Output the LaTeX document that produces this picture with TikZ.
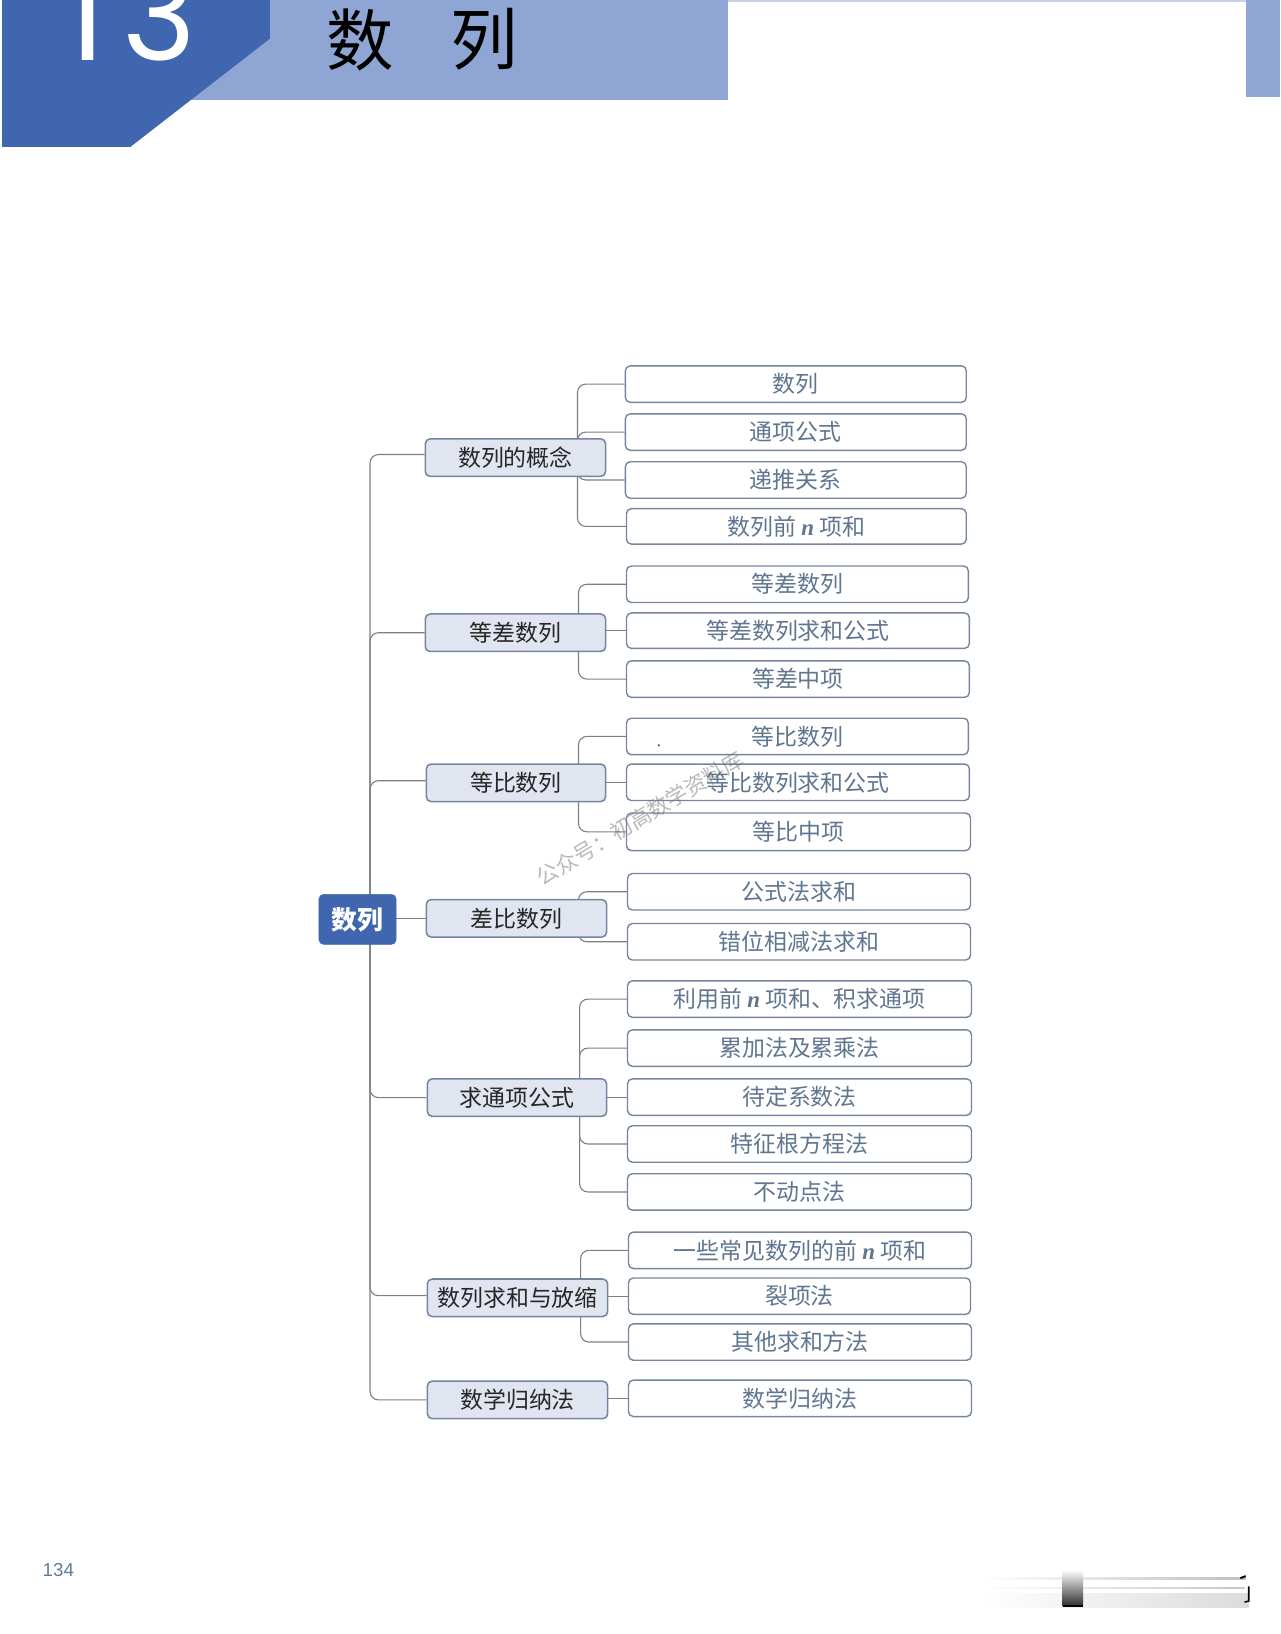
\documentclass[tikz,border=0pt]{standalone}
\usepackage{fontspec}
\setmainfont{Noto Sans CJK SC}
\newfontfamily\numfont{Poppins}
\newfontfamily\pagefont{Liberation Sans}
\newfontfamily\nfont{Liberation Serif}
\usetikzlibrary{backgrounds,calc}
\definecolor{banddark}{HTML}{3F66AE}
\definecolor{bandlight}{HTML}{8FA5D4}
\definecolor{edgecol}{HTML}{75859E}
\definecolor{conncol}{HTML}{7C7F85}
\definecolor{parentfill}{HTML}{E0E5F0}
\definecolor{childtext}{HTML}{5F7690}
\definecolor{pagecol}{HTML}{5D7C9E}
\tikzset{
  childbox/.style={draw=edgecol,line width=1pt,fill=white,rounded corners=3.5pt,inner sep=0pt,text=childtext,font=\fontsize{16.5}{18}\selectfont},
  parentbox/.style={draw=edgecol,line width=1.1pt,fill=parentfill,rounded corners=3.5pt,inner sep=0pt,text=black!85,font=\fontsize{16.5}{18}\selectfont},
  rootbox/.style={draw=banddark,line width=.5pt,fill=banddark,rounded corners=3.5pt,inner sep=0pt,text=white,font=\fontsize{18.5}{20}\selectfont\bfseries},
  conn/.style={draw=conncol,line width=.8pt,rounded corners=6pt},
}
\newcommand{\bx}[7]{\node[#1,minimum width={(#4-#3)*.75pt},minimum height={(#6-#5)*.75pt}] (#2) at ({(#3+#4)/2},{(#5+#6)/2}) {#7};}
\newcommand{\cx}[6]{\bx{childbox}{#1}{#2}{#3}{#4}{#5}{\raisebox{-.7pt}{#6}}}
\newcommand{\nv}{{\nfont\bfseries\itshape n}}
\newcommand{\brch}[3]{\draw[conn] (#1.center -| #2) |- (#3.west);}
\newcommand{\strt}[2]{\draw[conn] (#1.east |- #2.west) -- (#2.west);}
\begin{document}
\begin{tikzpicture}[x=.75pt,y=-.75pt]
\useasboundingbox (0,0) rectangle (1228,1567.6);
% header
\fill[bandlight] (2,0) rectangle (698,96);
\fill[bandlight] (1195,0) rectangle (1228,93);
\fill[bandlight!50] (698,0) rectangle (1195,1.5);
\fill[banddark] (2,0) -- (259,0) -- (259,37) -- (125,141) -- (2,141) -- cycle;
\begin{scope}
\clip (0,0) rectangle (1228,141);
\node[anchor=base west,inner sep=0pt,text=white,font=\numfont\fontsize{90}{98}\selectfont] (num) at (63,58) {1\hspace{12pt}3};
\end{scope}
\node[anchor=center,inner sep=0pt,font=\fontsize{48.5}{52}\selectfont] (ti1) at (346,38) {数};
\node[anchor=center,inner sep=0pt,font=\fontsize{48.5}{52}\selectfont] (ti2) at (465,38) {列};
% nodes
\bx{rootbox}{root}{306}{380}{858}{906}{数列}
\bx{parentbox}{p1}{408}{581}{421}{457}{数列的概念}
\bx{parentbox}{p2}{408}{581}{589}{625}{等差数列}
\bx{parentbox}{p3}{409}{581}{733}{769}{等比数列}
\bx{parentbox}{p4}{409}{582}{863}{899}{差比数列}
\bx{parentbox}{p5}{410}{582}{1035}{1071}{求通项公式}
\bx{parentbox}{p6}{410}{583}{1227}{1263}{数列求和与放缩}
\bx{parentbox}{p7}{410}{583}{1325}{1361}{数学归纳法}
\cx{c1}{600}{927}{351}{386}{数列}
\cx{c2}{600}{927}{397}{432}{通项公式}
\cx{c3}{600}{927}{443}{478}{递推关系}
\cx{c4}{601}{927}{488}{522}{数列前 \nv{} 项和}
\cx{c5}{601}{929}{543}{578}{等差数列}
\cx{c6}{601}{930}{588}{622}{等差数列求和公式}
\cx{c7}{601}{930}{634}{669}{等差中项}
\cx{c8}{601}{929}{689}{724}{等比数列}
\cx{c9}{601}{930}{733}{768}{等比数列求和公式}
\cx{c10}{601}{931}{780}{816}{等比中项}
\cx{c11}{602}{931}{838}{873}{公式法求和}
\cx{c12}{602}{931}{886}{921}{错位相减法求和}
\cx{c13}{602}{932}{941}{976}{利用前 \nv{} 项和、积求通项}
\cx{c14}{602}{932}{988}{1023}{累加法及累乘法}
\cx{c15}{602}{932}{1035}{1070}{待定系数法}
\cx{c16}{602}{932}{1080}{1115}{特征根方程法}
\cx{c17}{602}{932}{1126}{1161}{不动点法}
\cx{c18}{603}{932}{1182}{1217}{一些常见数列的前 \nv{} 项和}
\cx{c19}{603}{931}{1226}{1261}{裂项法}
\cx{c20}{603}{932}{1270}{1305}{其他求和方法}
\cx{c21}{603}{932}{1324}{1359}{数学归纳法}
% trunks
\coordinate (t0) at (355,0);
\coordinate (t1) at (554,0);
\coordinate (t2) at (555,0);
\coordinate (t4) at (555,0);
\coordinate (t5) at (556,0);
\coordinate (t6) at (557,0);
\begin{pgfonlayer}{background}
\draw[conn] (root.center -| t0) |- ([yshift=2.2pt]p1.west);
\draw[conn] (root.center -| t0) |- (p2.west);
\draw[conn] (root.center -| t0) |- ([yshift=1.5pt]p3.west);
\draw[conn] (root.east |- p4.west) -- (p4.west);
\draw[conn] (root.center -| t0) |- (p5.west);
\draw[conn] (root.center -| t0) |- ([yshift=1.5pt]p6.west);
\draw[conn] (root.center -| t0) |- (p7.west);
\brch{p1}{t1}{c1}\brch{p1}{t1}{c2}\brch{p1}{t1}{c3}\brch{p1}{t1}{c4}
\brch{p2}{t2}{c5}\strt{p2}{c6}\brch{p2}{t2}{c7}
\brch{p3}{t2}{c8}\strt{p3}{c9}\brch{p3}{t2}{c10}
\brch{p4}{t4}{c11}\brch{p4}{t4}{c12}
\brch{p5}{t5}{c13}\brch{p5}{t5}{c14}\strt{p5}{c15}\brch{p5}{t5}{c16}\brch{p5}{t5}{c17}
\brch{p6}{t6}{c18}\strt{p6}{c19}\brch{p6}{t6}{c20}
\strt{p7}{c21}
\end{pgfonlayer}
% watermark and speck
\node[rotate=31,inner sep=0pt,text=black!55,opacity=.5,font=\fontsize{15.5}{17}\selectfont] (wm) at (614,785) {公众号：初高数学资料库};
\fill[black!70] (632,715) circle (.8pt);
% page number
\node[inner sep=0pt,text=pagecol,font=\pagefont\fontsize{13.5}{15}\selectfont] (pg) at (56,1506) {134};
% scan artefact bottom right
\shade[left color=white,right color=black!25] (943,1513.5) rectangle (1195,1515);
\shade[left color=white,right color=black!22] (943,1522.5) rectangle (1194,1524);
\shade[left color=white,right color=black!14] (943,1529) rectangle (1198,1542);
\shade[top color=white,bottom color=black!80] (1019,1506) rectangle (1039,1540);
\fill[black] (1019.5,1540) rectangle (1038.5,1542);
\draw[black,line width=1.1pt] (1198,1522) -- (1198,1536) -- (1194,1537);
\draw[black,line width=1.4pt] (1190,1514) -- (1195,1512);
\end{tikzpicture}
\end{document}
